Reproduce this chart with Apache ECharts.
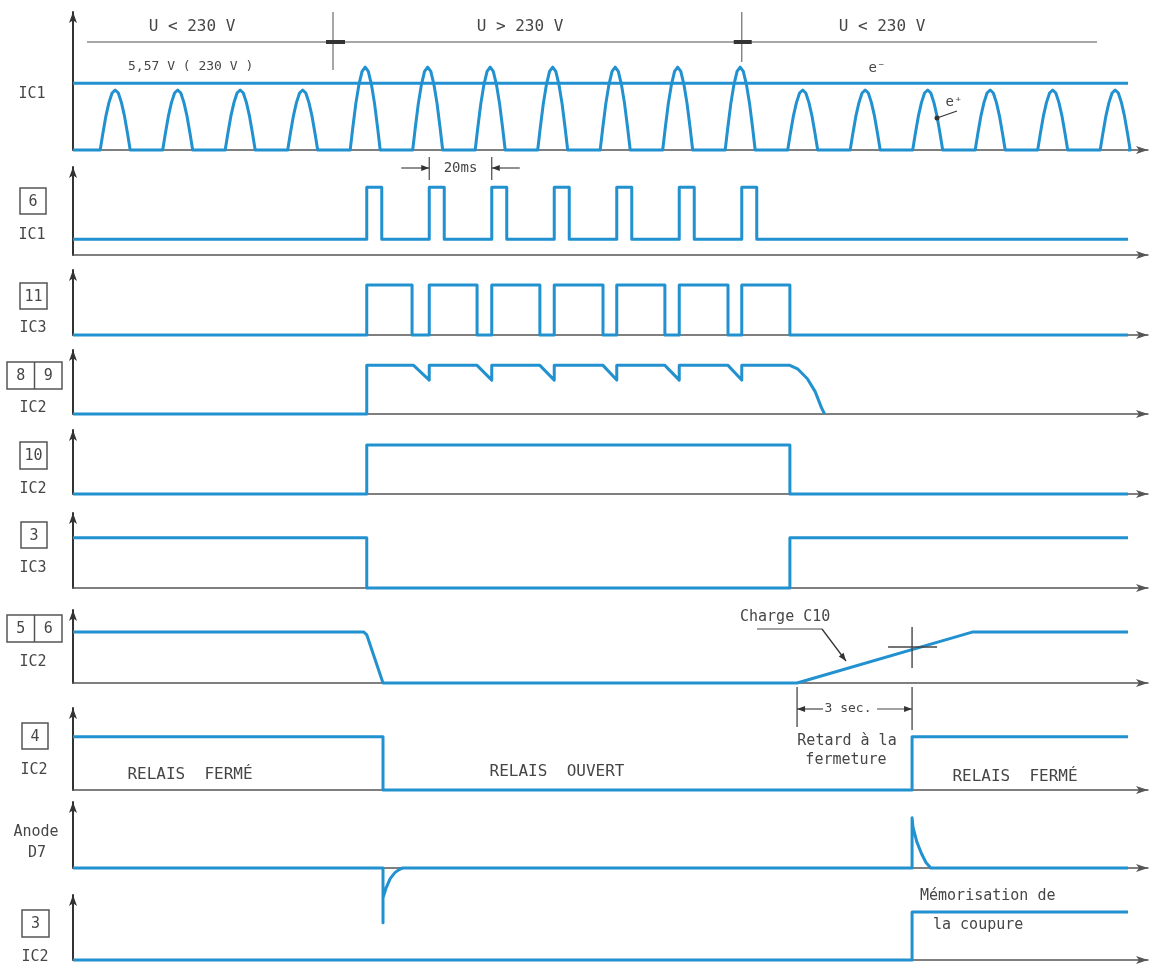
<!DOCTYPE html>
<html>
<head>
<meta charset="utf-8">
<script src="https://cdn.jsdelivr.net/npm/echarts@6/dist/echarts.min.js"></script>
<style>
  html, body { margin: 0; padding: 0; background: #ffffff; }
  #chart { width: 1159px; height: 966px; }
</style>
</head>
<body>
<div id="chart"></div>
<script>
// Time base in ms: mains half-waves every 20 ms
const T_MAX = 344;
const T_END = 337.6;

// IC1 input: rectified half-waves and the 5,57 V comparator threshold
const bumpCenters = [13.5, 33.5, 53.5, 73.5, 93.5, 113.5, 133.5, 153.5, 173.5, 193.5, 213.5, 233.5, 253.5, 273.5, 293.5, 313.5, 333.5];
const bumpPeaks   = [5.0, 5.0, 5.0, 5.0, 6.9, 6.9, 6.9, 6.9, 6.9, 6.9, 6.9, 5.0, 5.0, 5.0, 5.0, 5.0, 5.0];
const bumpOffsets = [-4.8, -4, -3, -2, -1, 0, 1, 2, 3, 4, 4.8];
const bumpShape   = [0, 0.26, 0.56, 0.79, 0.95, 1, 0.95, 0.79, 0.56, 0.26, 0];
const threshold = 5.57;

// Pin 6 IC1 comparator pulses and pin 11 IC3 monostable pulses (levels in % of axis height)
const pulseRise = [94, 114, 134, 154, 174, 194, 214];
const pin6Fall  = [98.8, 118.8, 138.8, 158.8, 178.8, 198.8, 218.8];
const pin6Low = 18, pin6High = 77;
const pin11Fall = [108.5, 129.3, 149.4, 169.6, 189.4, 209.6, 229.4];
const pin11High = 77;

// Pins 8/9 IC2: held level with small sags between pulses, then discharge
const pin89 = [[0,0],[94,0],[94,76],[109,76],[114,53],[114,76],[129.3,76],[134,53],[134,76],[149.4,76],[154,53],[154,76],
  [169.6,76],[174,53],[174,76],[189.4,76],[194,53],[194,76],[209.6,76],[214,53],[214,76],[229.4,76],
  [232,70],[235,55],[237.5,35],[239.5,10],[240.5,0]];
// Pin 10 IC2
const pin10 = [[0,0],[94,0],[94,76.5],[229.4,76.5],[229.4,0],[T_END,0]];
// Pin 3 IC3
const pin3ic3 = [[0,67],[94,67],[94,0],[229.4,0],[229.4,67],[T_END,67]];
// Pins 5/6 IC2: fast discharge, then slow charge of C10
const pin56 = [[0,70],[93,70],[94,66],[99.2,0],[231.7,0],[288,70],[T_END,70]];
// Pin 4 IC2: relay drive
const pin4 = [[0,65],[99.2,65],[99.2,0],[268.5,0],[268.5,65],[T_END,65]];
// Anode D7: negative and positive spikes
const anodeD7 = [[0,0],[99.2,0],[99.2,-83],[99.2,-45],[100.2,-30],[101.5,-16],[103,-7],[104.5,-2],[105.5,0],
  [268.5,0],[268.5,76],[268.8,62],[270,40],[271.5,22],[273,8],[274.5,0],[T_END,0]];
// Pin 3 IC2: memorised cut-off
const pin3ic2 = [[0,0],[268.5,0],[268.5,74],[T_END,74]];

// Row layout (pixels)
const rows = [
  { top: 12,  bottom: 150, yMax: 11.5 },
  { top: 167, bottom: 255, yMax: 100 },
  { top: 270, bottom: 335, yMax: 100 },
  { top: 350, bottom: 414, yMax: 100 },
  { top: 430, bottom: 494, yMax: 100 },
  { top: 513, bottom: 588, yMax: 100 },
  { top: 610, bottom: 683, yMax: 100 },
  { top: 708, bottom: 790, yMax: 100 },
  { top: 802, bottom: 868, yMax: 100 },
  { top: 895, bottom: 960, yMax: 100 }
];

const BLUE = '#2291d0';
const INK = '#464646';
const FONT = 'DejaVu Sans Mono';

function squareWave(rise, fall, low, high) {
  const d = [[0, low]];
  rise.forEach((r, i) => { d.push([r, low], [r, high], [fall[i], high], [fall[i], low]); });
  d.push([T_END, low]);
  return d;
}

function halfWaves() {
  const d = [[0, 0]];
  bumpCenters.forEach((c, i) => {
    bumpOffsets.forEach((o, k) => d.push([c + o, bumpPeaks[i] * bumpShape[k]]));
  });
  d.push([T_END, 0]);
  return d;
}

const seriesData = [
  halfWaves(),
  squareWave(pulseRise, pin6Fall, pin6Low, pin6High),
  squareWave(pulseRise, pin11Fall, 0, pin11High),
  pin89, pin10, pin3ic3, pin56, pin4, anodeD7, pin3ic2
];

const grids = [], xAxes = [], yAxes = [], series = [];
rows.forEach((r, i) => {
  grids.push({ left: 73, right: 11, top: r.top, height: r.bottom - r.top });
  xAxes.push({
    type: 'value', gridIndex: i, min: 0, max: T_MAX,
    axisLine: { show: true, symbol: ['none', 'arrow'], symbolSize: [6, 12], lineStyle: { color: '#555555', width: 1.5 } },
    axisTick: { show: false }, axisLabel: { show: false }, splitLine: { show: false }
  });
  yAxes.push({
    type: 'value', gridIndex: i, min: 0, max: r.yMax,
    axisLine: { show: true, symbol: ['none', 'arrow'], symbolSize: [6, 11], lineStyle: { color: '#333333', width: 2 } },
    axisTick: { show: false }, axisLabel: { show: false }, splitLine: { show: false }
  });
  series.push({
    type: 'line', xAxisIndex: i, yAxisIndex: i, data: seriesData[i],
    showSymbol: false, clip: false, animation: false,
    lineStyle: { color: BLUE, width: 3, join: 'round' }
  });
});
// Threshold line on the IC1 input
series.push({
  type: 'line', xAxisIndex: 0, yAxisIndex: 0, data: [[0, threshold], [T_END, threshold]],
  showSymbol: false, animation: false, lineStyle: { color: BLUE, width: 3 }
});

const chart = echarts.init(document.getElementById('chart'), null, { renderer: 'canvas' });
chart.setOption({ animation: false, backgroundColor: '#ffffff', grid: grids, xAxis: xAxes, yAxis: yAxes, series: series });

const X = t => chart.convertToPixel({ xAxisIndex: 0 }, t);

const g = [];
function ln(x1, y1, x2, y2, w, c) {
  g.push({ type: 'line', shape: { x1, y1, x2, y2 }, style: { stroke: c || INK, lineWidth: w || 1.3 }, z: 10 });
}
function tx(x, y, s, size, align, c) {
  g.push({ type: 'text', x, y, style: { text: s, font: (size || 15) + 'px "' + FONT + '"', fill: c || INK, align: align || 'center', verticalAlign: 'middle' }, z: 10 });
}
function head(x, y, dx, dy) {
  // filled arrow head with its tip at (x, y), pointing along (dx, dy)
  const L = Math.hypot(dx, dy), ux = dx / L, uy = dy / L, len = 8, hw = 3;
  const bx = x - ux * len, by = y - uy * len;
  g.push({ type: 'polygon', shape: { points: [[x, y], [bx - uy * hw, by + ux * hw], [bx + uy * hw, by - ux * hw]] }, style: { fill: '#333' }, z: 10 });
}
function box(x, y, w, h, labels) {
  g.push({ type: 'rect', shape: { x, y, width: w, height: h }, style: { fill: 'none', stroke: '#555', lineWidth: 1.5 }, z: 10 });
  const cw = w / labels.length;
  labels.forEach((s, i) => {
    if (i > 0) ln(x + cw * i, y, x + cw * i, y + h, 1.5, '#555');
    tx(x + cw * i + cw / 2, y + h / 2 + 1, s, 15);
  });
}

// Mains voltage bands
const xCut1 = X(83.2), xCut2 = X(214);
ln(87, 42, 1097, 42, 1.5, '#8a8a8a');
ln(xCut1, 12, xCut1, 70, 1.3, '#777');
ln(xCut2, 12, xCut2, 62, 1.3, '#777');
ln(xCut1 - 7, 42, xCut1 + 12, 42, 4, '#333');
ln(xCut2 - 8, 42, xCut2 + 10, 42, 4, '#333');
tx(192, 27, 'U < 230 V', 16);
tx(520, 27, 'U > 230 V', 16);
tx(882, 27, 'U < 230 V', 16);
tx(128, 67, '5,57 V ( 230 V )', 13, 'left');
tx(877, 68, 'e\u207B', 14);
g.push({ type: 'circle', shape: { cx: 937, cy: 118, r: 2.5 }, style: { fill: '#333' }, z: 10 });
ln(937, 118, 957, 111, 1.2, '#333');
tx(954, 102, 'e\u207A', 14);

// 20 ms period
const p1 = X(114), p2 = X(134);
ln(p1, 157, p1, 180, 1.2);
ln(p2, 157, p2, 180, 1.2);
ln(p1 - 28, 168, p1, 168, 1.2); head(p1, 168, 1, 0);
ln(p2 + 28, 168, p2, 168, 1.2); head(p2, 168, -1, 0);
tx((p1 + p2) / 2, 168, '20ms', 14);

// Charge of C10 and the 3 s closing delay
tx(740, 617, 'Charge C10', 15, 'left');
ln(757, 629, 822, 629, 1.2);
ln(822, 629, 846, 661, 1.3, '#333'); head(846, 661, 24, 32);
const xc = X(268.5), xs = X(231.7);
ln(xc, 627, xc, 668, 1.4);
ln(xc - 24, 647, xc + 25, 647, 1.4);
ln(xs, 687, xs, 727, 1.3);
ln(xc, 687, xc, 730, 1.3);
ln(xs, 709, xs + 26, 709, 1.2); head(xs, 709, -1, 0);
ln(xc - 35, 709, xc, 709, 1.2); head(xc, 709, 1, 0);
tx(848, 709, '3 sec.', 13);
tx(847, 741, 'Retard à la', 15);
tx(846, 760, 'fermeture', 15);

// Relay states
tx(190, 775, 'RELAIS  FERMÉ', 16);
tx(557, 772, 'RELAIS  OUVERT', 16);
tx(1015, 777, 'RELAIS  FERMÉ', 16);
tx(920, 896, 'Mémorisation de', 15, 'left');
tx(933, 925, 'la coupure', 15, 'left');

// Signal names
tx(32, 94, 'IC1', 15);
box(20, 188, 26, 26, ['6']);     tx(32, 235, 'IC1', 15);
box(20, 283, 27, 26, ['11']);    tx(33, 328, 'IC3', 15);
box(7, 362, 55, 27, ['8', '9']); tx(33, 408, 'IC2', 15);
box(20, 442, 27, 27, ['10']);    tx(33, 489, 'IC2', 15);
box(21, 522, 26, 26, ['3']);     tx(33, 568, 'IC3', 15);
box(7, 615, 55, 27, ['5', '6']); tx(33, 662, 'IC2', 15);
box(22, 723, 26, 26, ['4']);     tx(34, 770, 'IC2', 15);
tx(36, 832, 'Anode', 15);        tx(37, 853, 'D7', 15);
box(22, 910, 27, 27, ['3']);     tx(35, 957, 'IC2', 15);

chart.setOption({ graphic: { elements: g } });
</script>
</body>
</html>
